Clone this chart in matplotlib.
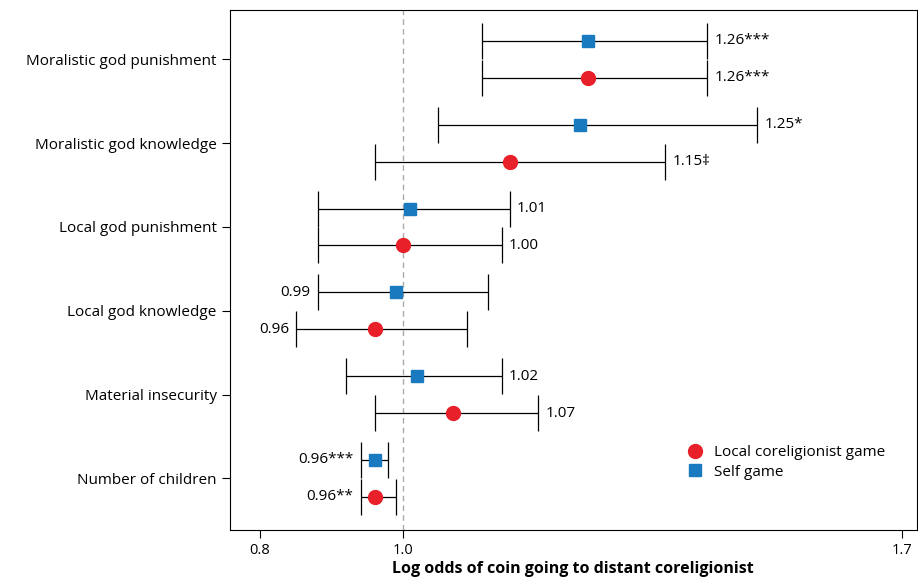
import matplotlib
matplotlib.use("Agg")
import matplotlib.pyplot as plt

categories = ["Moralistic god punishment", "Moralistic god knowledge", "Local god punishment",
              "Local god knowledge", "Material insecurity", "Number of children"]
self_est = [1.26, 1.249, 1.01, 0.99, 1.02, 0.961]
self_lo = [1.111, 1.05, 0.881, 0.881, 0.921, 0.941]
self_hi = [1.427, 1.497, 1.15, 1.119, 1.139, 0.98]
self_lab = ["1.26***", "1.25*", "1.01", "0.99", "1.02", "0.96***"]
loc_est = [1.26, 1.15, 1.00, 0.961, 1.07, 0.961]
loc_lo = [1.111, 0.961, 0.881, 0.851, 0.961, 0.941]
loc_hi = [1.427, 1.368, 1.139, 1.09, 1.19, 0.99]
loc_lab = ["1.26***", "1.15\u2021", "1.00", "0.96", "1.07", "0.96**"]
label_left = [False, False, False, True, False, True]

plt.rcParams['font.family'] = ['Open Sans', 'DejaVu Sans']
fig = plt.figure(figsize=(9.18, 5.81), dpi=100)
ax = fig.add_axes([0.2505, 0.088, 0.748, 0.895])
n = len(categories)
ys = [n - 1 - i for i in range(n)]
off = 0.22
ax.axvline(1.0, color="#aaaaaa", ls=(0, (4, 3)), lw=1)
for i, y in enumerate(ys):
    for est, lo, hi, lab, dy, mk, col in [
        (self_est[i], self_lo[i], self_hi[i], self_lab[i], off, "s", "#1a7abf"),
        (loc_est[i], loc_lo[i], loc_hi[i], loc_lab[i], -off, "o", "#e8202a")]:
        yy = y + dy
        ax.errorbar([est], [yy], xerr=[[est - lo], [hi - est]], fmt="none",
                    ecolor="black", elinewidth=0.9, capsize=13, capthick=0.9)
        ax.plot([est], [yy], marker=mk, color=col, ms=10 if mk == "o" else 9, ls="none", zorder=3)
        if label_left[i]:
            ax.text(lo - 0.01, yy, lab, ha="right", va="center", fontsize=11)
        else:
            ax.text(hi + 0.01, yy, lab, ha="left", va="center", fontsize=11)
ax.set_yticks(ys)
ax.set_yticklabels(categories, fontsize=11)
ax.set_xlim(0.758, 1.72)
ax.set_ylim(-0.614, 5.59)
ax.set_xticks([0.8, 1.0, 1.7])
ax.set_xticklabels(["0.8", "1.0", "1.7"], fontsize=10.5)
ax.tick_params(direction="out", length=6)
ax.set_xlabel("Log odds of coin going to distant coreligionist", fontsize=11.5, fontweight="bold", labelpad=2)
ax.plot([], [], "o", color="#e8202a", ms=10, label="Local coreligionist game")
ax.plot([], [], "s", color="#1a7abf", ms=9, label="Self game")
ax.legend(loc="lower right", frameon=False, fontsize=11, handletextpad=0.3, labelspacing=0.3,
          bbox_to_anchor=(0.975, 0.07))
fig.savefig("out.png", dpi=100)
